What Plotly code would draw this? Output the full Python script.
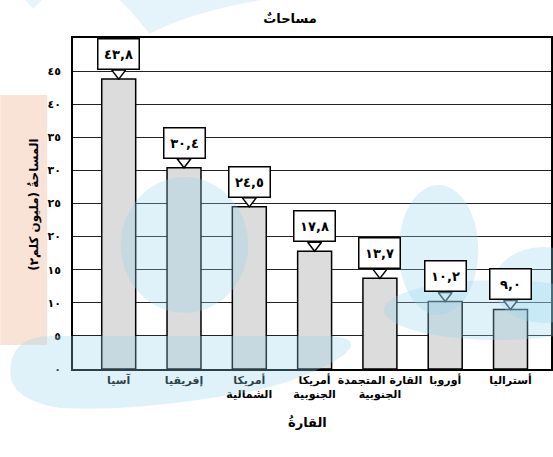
import plotly.graph_objects as go

# data
continents = ["آسيا", "إفريقيا", "أمريكا<br>الشمالية", "أمريكا<br>الجنوبية",
              "القارة المتجمدة<br>الجنوبية", "أوروبا", "أستراليا"]
areas = [43.8, 30.4, 24.5, 17.8, 13.7, 10.2, 9.0]
y_ticks = [0, 5, 10, 15, 20, 25, 30, 35, 40, 45]

W, H = 553, 457
L, R, T, B = 73, 0, 38, 88
FONT = "DejaVu Sans"
AR_DIGITS = str.maketrans("0123456789.", "٠١٢٣٤٥٦٧٨٩,")


def ar(s):
    return str(s).translate(AR_DIGITS)


# pixel -> paper helper, only used for the background decoration
def px(x, y):
    return (x - L) / (W - L - R), (H - B - y) / (H - T - B)


def path(points):
    out = []
    for cmd, pts in points:
        coords = " ".join("%.4f,%.4f" % px(*p) for p in pts)
        out.append(cmd + " " + coords)
    return " ".join(out) + " Z"


xs = list(range(len(continents)))

fig = go.Figure()
fig.add_trace(go.Bar(
    x=xs, y=areas, width=0.52,
    marker=dict(color="#dcdcdc", line=dict(color="black", width=1.5)),
    hoverinfo="skip"
))
# little pointers under the value boxes
fig.add_trace(go.Scatter(
    x=xs, y=[a + 0.9 for a in areas], mode="markers",
    marker=dict(symbol="triangle-down", size=12, color="white",
                line=dict(color="black", width=1.5)),
    cliponaxis=False, hoverinfo="skip"
))

for i, a in enumerate(areas):
    fig.add_annotation(
        x=i, y=a, xref="x", yref="y", yanchor="bottom", yshift=9,
        text=ar("%.1f" % a), showarrow=False,
        font=dict(family=FONT, size=13, color="black", weight="bold"),
        bgcolor="white", bordercolor="black", borderwidth=1.5,
        borderpad=5, width=30, height=19
    )

# faint watermark blobs from the scanned page
blue = "rgb(150,212,238)"
shapes = []
x0, y0 = px(0, 95)
x1, y1 = px(47, 345)
shapes.append(dict(type="rect", xref="paper", yref="paper", x0=x0, y0=y0, x1=x1, y1=y1,
                   fillcolor="rgb(249,226,214)", line_width=0, layer="below"))
shapes.append(dict(type="path", xref="paper", yref="paper", layer="above", opacity=0.3,
                   fillcolor=blue, line_width=0,
                   path=path([("M", [(10, 372)]), ("Q", [(10, 337), (50, 336)]), ("L", [(330, 336)]),
                              ("Q", [(365, 338), (345, 355)]), ("Q", [(300, 385), (230, 395)]),
                              ("Q", [(130, 412), (60, 408)]), ("Q", [(10, 400), (10, 372)])])))
for cx, cy, rx, ry in [(185, 245, 64, 68), (440, 250, 40, 65), (500, 310, 115, 30), (545, 285, 50, 38)]:
    a0, b0 = px(cx - rx, cy + ry)
    a1, b1 = px(cx + rx, cy - ry)
    shapes.append(dict(type="circle", xref="paper", yref="paper", x0=a0, y0=b0, x1=a1, y1=b1,
                       fillcolor=blue, line_width=0, layer="above", opacity=0.3))
shapes.append(dict(type="path", xref="paper", yref="paper", layer="above", opacity=0.25,
                   fillcolor=blue, line_width=0,
                   path=path([("M", [(120, 0)]), ("L", [(262, 0)]), ("Q", [(190, 12), (150, 34)]),
                              ("Q", [(135, 15), (120, 0)])])))
shapes.append(dict(type="path", xref="paper", yref="paper", layer="above", opacity=0.25,
                   fillcolor=blue, line_width=0,
                   path=path([("M", [(25, 0)]), ("L", [(42, 0)]), ("L", [(33, 9)])])))

fig.update_layout(
    width=W, height=H,
    margin=dict(l=L, r=R, t=T, b=B),
    paper_bgcolor="white",
    plot_bgcolor="white",
    showlegend=False,
    shapes=shapes,
    title=dict(text="مساحاتٌ", x=290 / W, xref="container", xanchor="center",
               y=1 - 18 / H, yanchor="middle",
               font=dict(family=FONT, size=13, color="black", weight="bold")),
    xaxis=dict(range=[-0.7, 6.62], tickvals=xs, ticktext=continents, tickangle=0,
               tickfont=dict(family=FONT, size=11, color="black", weight="bold"),
               showgrid=False, zeroline=False, showline=True, linecolor="black",
               linewidth=1.5, mirror=True, ticks=""),
    yaxis=dict(range=[0, 50], tickvals=y_ticks, ticktext=[ar(v) for v in y_ticks],
               tickfont=dict(family=FONT, size=11, color="black", weight="bold"),
               showgrid=True, gridcolor="#222222", gridwidth=1.2, zeroline=False,
               showline=True, linecolor="black", linewidth=1.5, mirror=True,
               ticks="", ticklabelstandoff=8),
)

fig.add_annotation(text="المساحةُ (مليون كلم٢)", textangle=-90, showarrow=False,
                   xref="paper", yref="paper", x=px(24, 205)[0], y=px(24, 205)[1],
                   font=dict(family=FONT, size=12, color="black", weight="bold"))
fig.add_annotation(text="القارةُ", showarrow=False, xref="paper", yref="paper",
                   x=px(308, 432)[0], y=px(308, 432)[1],
                   font=dict(family=FONT, size=13, color="black", weight="bold"))

# the page's default body margin would push the figure 8px right and down
fig.write_html("out.html", config={"displayModeBar": False},
               post_script="document.body.style.margin='0';")
